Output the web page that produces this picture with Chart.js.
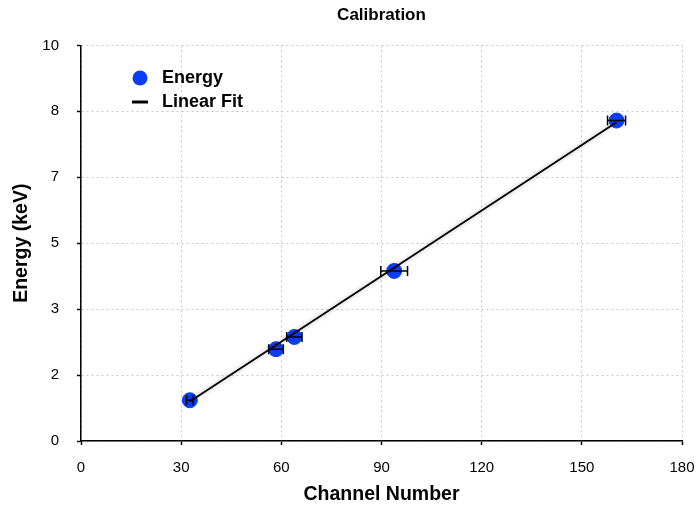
<!DOCTYPE html>
<html>
<head>
<meta charset="utf-8">
<title>Calibration</title>
<script src="https://cdn.jsdelivr.net/npm/chart.js@4.4.1/dist/chart.umd.min.js"></script>
<style>
  html, body { margin: 0; padding: 0; background: #fff; }
  #wrap { width: 698px; height: 506px; }
</style>
</head>
<body>
<div id="wrap"><canvas id="chart" width="698" height="506"></canvas></div>
<script>
// measured calibration points
const channels = [32.6, 58.4, 63.9, 93.8, 160.4];
const energies = [1.03, 2.32, 2.63, 4.30, 8.10];
const channelErrors = [1.0, 2.2, 2.3, 4.0, 2.7];

// linear fit end points
const fitChannels = [32.6, 160.4];
const fitEnergies = [1.0, 8.06];

const xTicks = [0, 30, 60, 90, 120, 150, 180];
const yTicks = [0, 10 / 6, 20 / 6, 5, 40 / 6, 50 / 6, 10];

const FONT = "'Liberation Sans', Arial, Helvetica, sans-serif";
const BLUE = '#0b3cf6';

// horizontal error bars on top of the points
const errorBars = {
  id: 'errorBars',
  afterDatasetsDraw(chart) {
    const { ctx, scales: { x, y } } = chart;
    ctx.save();
    ctx.strokeStyle = '#000';
    ctx.lineWidth = 1.5;
    channels.forEach((c, i) => {
      const py = y.getPixelForValue(energies[i]);
      const x0 = x.getPixelForValue(c - channelErrors[i]);
      const x1 = x.getPixelForValue(c + channelErrors[i]);
      ctx.beginPath();
      ctx.moveTo(x0, py);
      ctx.lineTo(x1, py);
      ctx.moveTo(x0, py - 5);
      ctx.lineTo(x0, py + 5);
      ctx.moveTo(x1, py - 5);
      ctx.lineTo(x1, py + 5);
      ctx.stroke();
    });
    ctx.restore();
  }
};

// soft grey halo under the fit line
const fitShadow = {
  id: 'fitShadow',
  beforeDatasetDraw(chart, args) {
    if (args.index !== 1) return;
    chart.ctx.save();
    chart.ctx.shadowColor = 'rgba(0,0,0,0.3)';
    chart.ctx.shadowBlur = 4;
  },
  afterDatasetDraw(chart, args) {
    if (args.index !== 1) return;
    chart.ctx.restore();
  }
};

// legend drawn inside the plot area, top left
const innerLegend = {
  id: 'innerLegend',
  afterDraw(chart) {
    const { ctx } = chart;
    ctx.save();
    ctx.font = 'bold 18px ' + FONT;
    ctx.textBaseline = 'middle';

    ctx.beginPath();
    ctx.arc(140, 78, 7.5, 0, Math.PI * 2);
    ctx.fillStyle = BLUE;
    ctx.fill();
    ctx.fillStyle = '#000';
    ctx.fillText(chart.data.datasets[0].label, 162, 78);

    ctx.beginPath();
    ctx.moveTo(132, 102);
    ctx.lineTo(148, 102);
    ctx.lineWidth = 3;
    ctx.strokeStyle = '#000';
    ctx.stroke();
    ctx.fillText(chart.data.datasets[1].label, 162, 102);
    ctx.restore();
  }
};

new Chart(document.getElementById('chart'), {
  type: 'scatter',
  data: {
    datasets: [
      {
        label: 'Energy',
        data: channels.map((c, i) => ({ x: c, y: energies[i] })),
        backgroundColor: BLUE,
        borderColor: BLUE,
        pointRadius: 7.5,
        order: 1,
      },
      {
        label: 'Linear Fit',
        type: 'line',
        data: fitChannels.map((c, i) => ({ x: c, y: fitEnergies[i] })),
        borderColor: '#000',
        borderWidth: 1.8,
        pointRadius: 0,
        fill: false,
        order: 0,
      },
    ],
  },
  options: {
    responsive: false,
    animation: false,
    layout: { padding: { left: 0, right: 16, top: 0, bottom: 0 } },
    plugins: {
      legend: { display: false },
      tooltip: { enabled: false },
      title: {
        display: true,
        text: 'Calibration',
        fullSize: false,
        color: '#000',
        font: { family: FONT, size: 17, weight: 'bold' },
        padding: { top: 5, bottom: 20 },
      },
    },
    scales: {
      x: {
        type: 'linear',
        min: 0,
        max: 180,
        afterBuildTicks: s => { s.ticks = xTicks.map(v => ({ value: v })); },
        afterFit: s => {
          s.height = 65;
          s.paddingLeft = 0;
          s.paddingRight = 0;
        },
        ticks: {
          color: '#000',
          font: { family: FONT, size: 15 },
          padding: 14,
        },
        grid: {
          color: '#c8c8c8',
          tickColor: '#000',
          tickLength: 4,
          tickWidth: 1.5,
        },
        border: { color: '#000', width: 1.5, dash: [2, 3] },
        title: {
          display: true,
          text: 'Channel Number',
          color: '#000',
          font: { family: FONT, size: 19.5, weight: 'bold' },
          padding: { top: 2, bottom: 0 },
        },
      },
      y: {
        type: 'linear',
        min: 0,
        max: 10,
        afterBuildTicks: s => { s.ticks = yTicks.map(v => ({ value: v })); },
        afterFit: s => {
          s.width = 81;
          s.paddingTop = 0;
          s.paddingBottom = 0;
        },
        ticks: {
          color: '#000',
          font: { family: FONT, size: 15 },
          padding: 18,
          callback: v => Math.round(v),
        },
        grid: {
          color: '#c8c8c8',
          tickColor: '#000',
          tickLength: 4,
          tickWidth: 1.5,
        },
        border: { color: '#000', width: 1.5, dash: [2, 3] },
        title: {
          display: true,
          text: 'Energy (keV)',
          color: '#000',
          font: { family: FONT, size: 19.5, weight: 'bold' },
          padding: { top: 10, bottom: 0 },
        },
      },
    },
  },
  plugins: [errorBars, fitShadow, innerLegend],
});
</script>
</body>
</html>
